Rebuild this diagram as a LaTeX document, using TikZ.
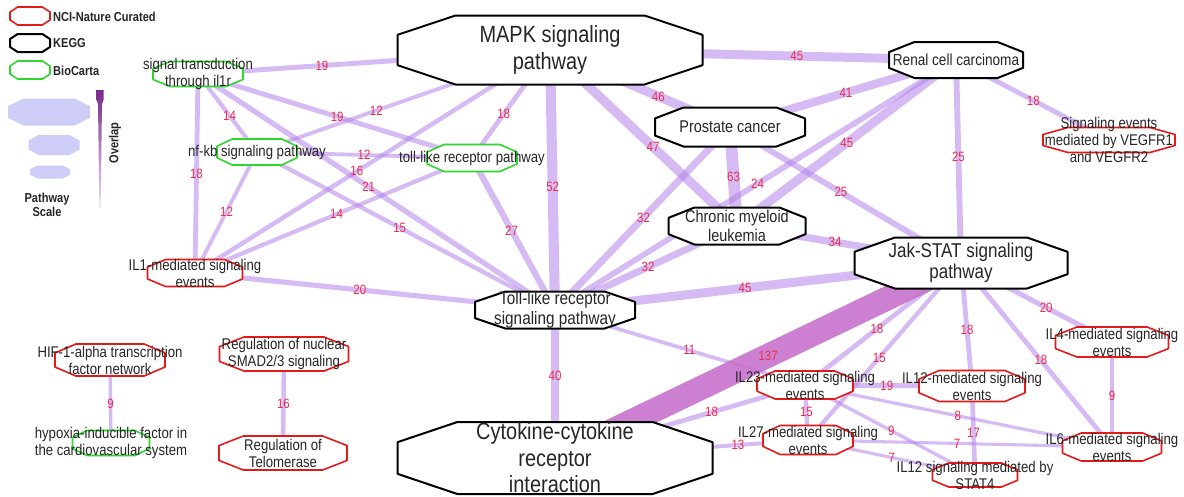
\documentclass[tikz,border=0pt]{standalone}
\usepackage{fontspec}
\setmainfont{Liberation Sans}[FakeStretch=0.85]
\usetikzlibrary{calc}
\pgfdeclarelayer{edges}
\pgfdeclarelayer{shapes}
\pgfsetlayers{edges,shapes,main}
\definecolor{edgec}{RGB}{180,130,235}
\definecolor{bigedge}{RGB}{200,115,205}
\definecolor{nred}{RGB}{230,25,25}
\definecolor{bgreen}{RGB}{45,215,45}
\definecolor{labred}{RGB}{235,45,75}
\definecolor{scalec}{RGB}{205,205,248}
\definecolor{ovtop}{RGB}{120,40,140}
\definecolor{ovbot}{RGB}{238,222,244}
\newcommand\octo[2]{\draw[#2] ($(#1.north west)!0.19!(#1.north east)$) -- ($(#1.north west)!0.81!(#1.north east)$) -- ($(#1.north east)!0.28!(#1.south east)$) -- ($(#1.north east)!0.72!(#1.south east)$) -- ($(#1.south east)!0.19!(#1.south west)$) -- ($(#1.south east)!0.81!(#1.south west)$) -- ($(#1.south west)!0.28!(#1.north west)$) -- ($(#1.south west)!0.72!(#1.north west)$) -- cycle;}
\newcommand\onode[5]{\node[box={#3}{#4}] (#1) at (#2) {};\begin{pgfonlayer}{shapes}\octo{#1}{#5}\end{pgfonlayer}}
\newcommand\pnode[7]{\onode{#1}{#2}{#3}{#4}{#5}\node[#6] (#1-t) at (#1) {#7};}
\newcommand\edge[5]{\begin{pgfonlayer}{edges}\draw[#3] (#1.center) -- coordinate[pos=#4] (#1-#2) (#2.center);\end{pgfonlayer}\node[lab] (#1-#2-l) at (#1-#2) {#5};}
\tikzset{
 box/.style 2 args={minimum width=#1pt,minimum height=#2pt,inner sep=0pt,outer sep=0pt},
 kegg/.style={draw=black,line width=2pt,fill=white,line join=round},
 nci/.style={draw=nred,line width=1.6pt,fill=white,line join=round},
 bioc/.style={draw=bgreen,line width=1.6pt,fill=white,line join=round},
 scaleoct/.style={fill=scalec,draw=none},
 txt/.style={align=center,inner sep=0pt,text=black!85},
 ts/.style={txt,font=\fontsize{15.5}{17}\selectfont},
 tmed/.style={txt,font=\fontsize{17}{18.5}\selectfont},
 trenal/.style={txt,font=\fontsize{16}{18}\selectfont},
 tjak/.style={txt,font=\fontsize{20}{21}\selectfont},
 ttlr/.style={txt,font=\fontsize{18}{20}\selectfont},
 tbig/.style={txt,font=\fontsize{23.5}{26.5}\selectfont},
 leg/.style={inner sep=0pt,align=center,font=\bfseries\fontsize{13}{14}\selectfont,text=black!85},
 lab/.style={inner sep=0pt,text=labred,font=\fontsize{13.5}{14}\selectfont},
 conn/.style={draw=edgec,draw opacity=0.55,line width={(2+0.155*#1)*1pt}},
 bigconn/.style={draw=bigedge,draw opacity=0.9,line width=24pt},
}
\begin{document}
\begin{tikzpicture}[x=1pt,y=-1pt]
\useasboundingbox (0,0) rectangle (1184,496);
\begin{pgfonlayer}{edges}\fill[white] (0,0) rectangle (1184,496);\end{pgfonlayer}
% legend
\onode{legn}{30,16}{40}{18}{nci}
\onode{legk}{30,43}{40}{18}{kegg}
\onode{legb}{30,70}{40}{18}{bioc}
\node[leg,anchor=west] (legn-t) at (53,17) {NCI-Nature Curated};
\node[leg,anchor=west] (legk-t) at (53,43) {KEGG};
\node[leg,anchor=west] (legb-t) at (53,71) {BioCarta};
\onode{sc1}{49,112}{82}{27}{scaleoct}
\onode{sc2}{54,145}{51}{20}{scaleoct}
\onode{sc3}{50,172}{40}{13}{scaleoct}
\node[leg] (scale-t) at (47,205) {Pathway\\Scale};
\shade[top color=ovtop,bottom color=ovbot] (96.5,90) -- (103.5,90) -- (103.5,100) -- (102,104) -- (100.6,208) -- (99.4,208) -- (98,104) -- (96.5,100) -- cycle;
\node[leg,rotate=90] (ov-t) at (115,143) {Overlap};
% pathway nodes
\pnode{mapk}{550,50}{305}{69}{kegg}{tbig}{MAPK signaling\\pathway}
\pnode{renal}{956,60}{134}{36}{kegg}{trenal}{Renal cell carcinoma}
\pnode{prost}{730,127}{150}{39}{kegg}{tmed}{Prostate cancer}
\pnode{cml}{737,226}{137}{37}{kegg}{tmed}{Chronic myeloid\\leukemia}
\pnode{jak}{961,263}{213}{51}{kegg}{tjak}{Jak-STAT signaling\\pathway}
\pnode{tlr}{555,310}{160}{37}{kegg}{ttlr}{Toll-like receptor\\signaling pathway}
\pnode{cyt}{555,458}{315}{72}{kegg}{tbig}{Cytokine-cytokine\\receptor\\interaction}
\pnode{vegf}{1109,140}{132}{25}{nci}{ts}{Signaling events\\mediated by VEGFR1\\and VEGFR2}
\pnode{il1r}{198,74}{90}{25}{bioc}{ts}{signal transduction\\through il1r}
\pnode{nfkb}{257,152}{80}{26}{bioc}{ts}{nf-kb signaling pathway}
\pnode{tlrp}{472,158}{90}{27}{bioc}{ts}{toll-like receptor pathway}
\pnode{il1}{195,273}{95}{27}{nci}{ts}{IL1-mediated signaling\\events}
\pnode{hif}{110,360}{110}{32}{nci}{ts}{HIF-1-alpha transcription\\factor network}
\pnode{hyp}{111,443}{77}{25}{bioc}{ts}{hypoxia-inducible factor in\\the cardiovascular system}
\pnode{smad}{284,354}{129}{34}{nci}{ts}{Regulation of nuclear\\SMAD2/3 signaling}
\pnode{telo}{283,453}{128}{34}{nci}{ts}{Regulation of\\Telomerase}
\pnode{il23}{805,385}{96}{28}{nci}{ts}{IL23-mediated signaling\\events}
\pnode{il12}{972,386}{106}{31}{nci}{ts}{IL12-mediated signaling\\events}
\pnode{il4}{1112,342}{113}{30}{nci}{ts}{IL4-mediated signaling\\events}
\pnode{il27}{808,440}{90}{29}{nci}{ts}{IL27-mediated signaling\\events}
\pnode{il6}{1112,447}{99}{28}{nci}{ts}{IL6-mediated signaling\\events}
\pnode{stat4}{975,475}{85}{24}{nci}{ts}{IL12 signaling mediated by\\STAT4}
% connectors
\edge{il1r}{mapk}{conn=19}{0.352}{19}
\edge{il1r}{nfkb}{conn=14}{0.534}{14}
\edge{il1r}{il1}{conn=18}{0.50}{18}
\edge{il1r}{tlrp}{conn=19}{0.508}{19}
\edge{il1r}{tlr}{conn=21}{0.478}{21}
\edge{mapk}{nfkb}{conn=12}{0.593}{12}
\edge{mapk}{tlrp}{conn=18}{0.593}{18}
\edge{mapk}{il1}{conn=16}{0.544}{16}
\edge{nfkb}{tlrp}{conn=12}{0.498}{12}
\edge{nfkb}{il1}{conn=12}{0.49}{12}
\edge{tlrp}{il1}{conn=14}{0.489}{14}
\edge{nfkb}{tlr}{conn=15}{0.479}{15}
\edge{tlrp}{tlr}{conn=27}{0.476}{27}
\edge{il1}{tlr}{conn=20}{0.458}{20}
\edge{mapk}{tlr}{conn=52}{0.527}{52}
\edge{mapk}{prost}{conn=46}{0.602}{46}
\edge{mapk}{cml}{conn=47}{0.551}{47}
\edge{mapk}{renal}{conn=45}{0.608}{45}
\edge{renal}{prost}{conn=41}{0.487}{41}
\edge{renal}{cml}{conn=45}{0.4985}{45}
\edge{renal}{tlr}{conn=24}{0.495}{24}
\edge{renal}{jak}{conn=25}{0.478}{25}
\edge{renal}{vegf}{conn=18}{0.505}{18}
\edge{prost}{cml}{conn=63}{0.505}{63}
\edge{prost}{tlr}{conn=32}{0.494}{32}
\edge{prost}{jak}{conn=25}{0.48}{25}
\edge{cml}{tlr}{conn=32}{0.489}{32}
\edge{cml}{jak}{conn=34}{0.438}{34}
\edge{tlr}{jak}{conn=45}{0.468}{45}
\edge{jak}{il23}{conn=18}{0.539}{18}
\edge{jak}{il27}{conn=15}{0.534}{15}
\edge{jak}{il12}{conn=18}{0.545}{18}
\edge{jak}{il6}{conn=18}{0.529}{18}
\edge{jak}{il4}{conn=20}{0.564}{20}
\edge{tlr}{il23}{conn=11}{0.537}{11}
\edge{tlr}{cyt}{conn=40}{0.446}{40}
\edge{cyt}{il23}{conn=18}{0.626}{18}
\edge{cyt}{il27}{conn=13}{0.723}{13}
\edge{il23}{il12}{conn=19}{0.49}{19}
\edge{il23}{il27}{conn=15}{0.49}{15}
\edge{il23}{il6}{conn=8}{0.498}{8}
\edge{il23}{stat4}{conn=9}{0.507}{9}
\edge{il12}{stat4}{conn=17}{0.528}{17}
\edge{il27}{il6}{conn=7}{0.49}{7}
\edge{il27}{stat4}{conn=7}{0.502}{7}
\edge{il4}{il6}{conn=9}{0.514}{9}
\edge{hif}{hyp}{conn=9}{0.53}{9}
\edge{smad}{telo}{conn=16}{0.505}{16}
\edge{jak}{cyt}{bigconn}{0.475}{137}
\end{tikzpicture}
\end{document}
